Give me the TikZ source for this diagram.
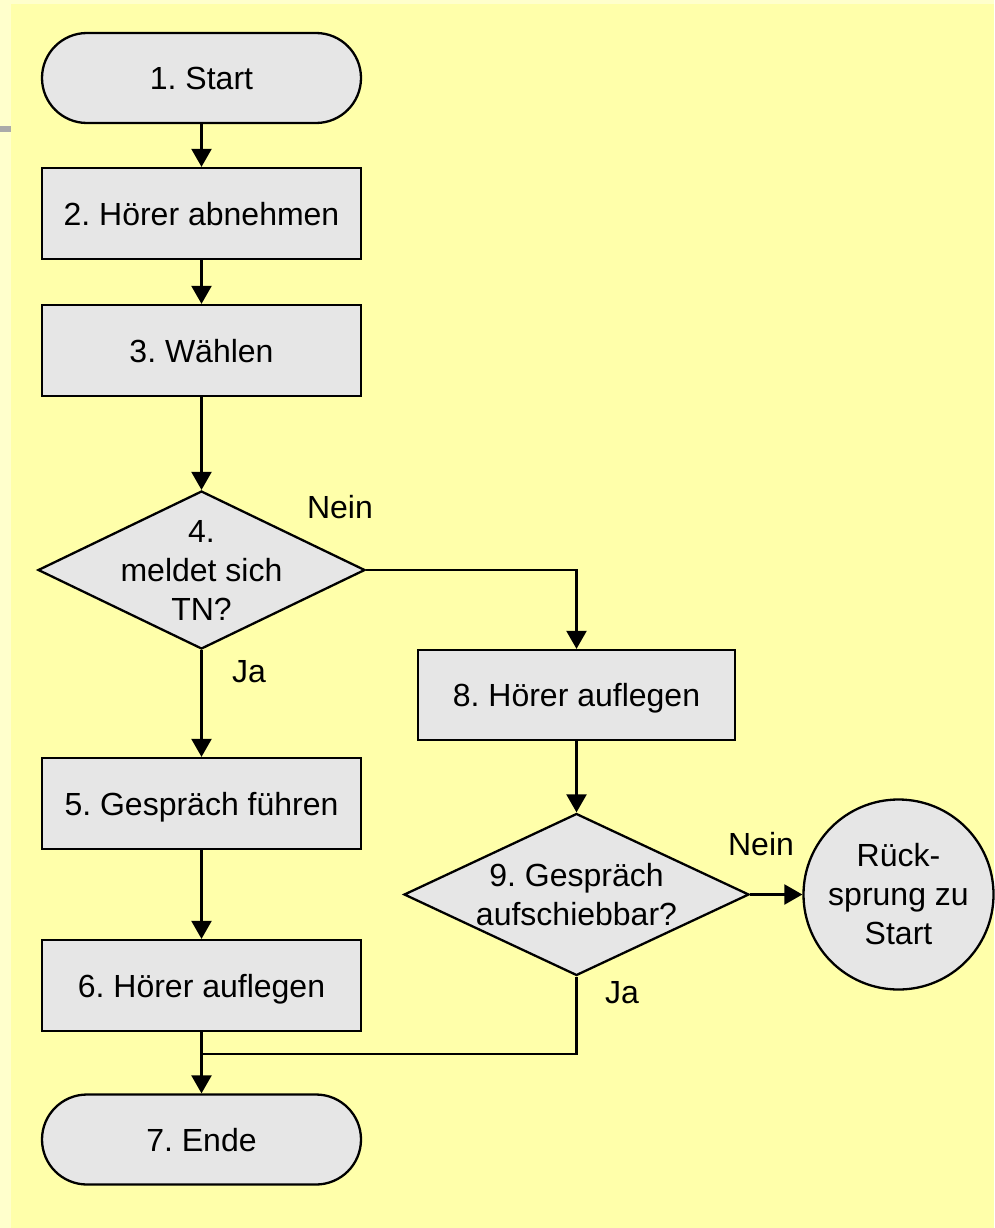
\documentclass[tikz,border=0pt]{standalone}
\usepackage{fontspec}
\setmainfont{Liberation Sans}
\usetikzlibrary{shapes.geometric,arrows.meta}
\definecolor{pagebg}{RGB}{255,255,204}
\definecolor{panel}{RGB}{255,255,170}
\definecolor{shapefill}{RGB}{230,230,230}
\definecolor{tabmark}{RGB}{170,170,170}

\begin{document}
\frenchspacing
\begin{tikzpicture}[x=1pt,y=-1pt,
  font=\fontsize{32}{39}\selectfont,
  base/.style={draw=black, line width=2.3pt, fill=shapefill, inner sep=0pt},
  terminal/.style={base, rectangle, rounded corners=45pt, minimum width=319pt,
    minimum height=90pt, text height=23pt, text depth=0pt},
  process/.style={base, rectangle, minimum width=319pt, minimum height=91pt,
    text height=23pt, text depth=0pt},
  decision/.style={base, diamond},
  jump/.style={base, circle, minimum size=190pt},
  caption/.style={align=center, inner sep=0pt},
  flow/.style={line width=2.3pt, -{Triangle[width=20pt,length=18pt]}},
  plain/.style={line width=2.3pt},
  answer/.style={anchor=base, inner sep=0pt}
]
% page and panel
\fill[pagebg] (0,0) rectangle (994,1228);
\fill[panel] (11,4) rectangle (994,1228);
\fill[tabmark] (0,126) rectangle (11,132);
\useasboundingbox (0,0) rectangle (994,1228);

% main column
\node[terminal] (start) at (201.5,78) {1. Start};
\node[process] (b2) at (201.5,213.5) {2. Hörer abnehmen};
\node[process] (b3) at (201.5,350.5) {3. Wählen};
\node[decision, minimum width=327pt, minimum height=158pt] (d4) at (201.5,570) {};
\node[caption] (d4text) at (d4.center) {4.\\meldet sich\\TN?};
\node[process] (b5) at (201.5,803.5) {5. Gespräch führen};
\node[process] (b6) at (201.5,985.5) {6. Hörer auflegen};
\node[terminal] (ende) at (201.5,1139.5) {7. Ende};

% right branch
\node[process, minimum width=317pt, minimum height=90pt] (b8) at (576.5,695) {8. Hörer auflegen};
\node[decision, minimum width=345pt, minimum height=162pt] (d9) at (576.5,894.5) {};
\node[caption] (d9text) at (d9.center) {9. Gespräch\\aufschiebbar?};
\node[jump] (ret) at (898.5,894.5) {};
\node[caption] (rettext) at (ret.center) {Rück-\\sprung zu\\Start};

\coordinate (join) at (201.5,1054);

% connectors
\draw[flow] (start) -- (b2);
\draw[flow] (b2) -- (b3);
\draw[flow] (b3) -- (d4);
\draw[flow] (d4) -- (b5);
\draw[flow] (b5) -- (b6);
\draw[flow] (b6) -- (ende);
\draw[flow] (d4.east) -| (b8.north);
\draw[flow] (b8) -- (d9);
\draw[flow] (d9) -- (ret);
\draw[plain] (d9.south) |- (join);

% branch labels
\node[answer] (nein1) at (340,518) {Nein};
\node[answer] (ja1) at (249,682) {Ja};
\node[answer] (nein2) at (761,855) {Nein};
\node[answer] (ja2) at (622,1003) {Ja};
\end{tikzpicture}
\end{document}
